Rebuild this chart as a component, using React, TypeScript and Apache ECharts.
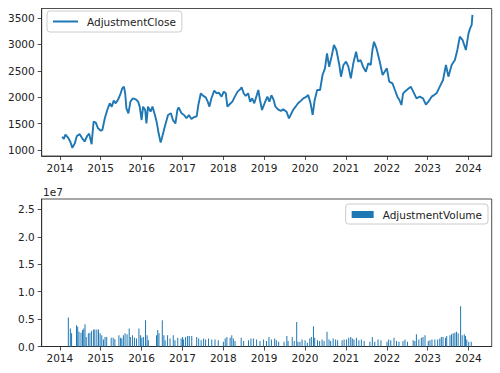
import React, { useEffect, useRef } from "react";
import * as echarts from "echarts";

const closeDates = [
  "2014-01-22","2014-02-06","2014-02-20","2014-03-14","2014-04-05","2014-04-23","2014-05-15","2014-06-02","2014-06-28","2014-07-20",
  "2014-08-11","2014-09-02","2014-09-20","2014-10-12","2014-10-30","2014-11-18","2014-12-09","2015-01-02","2015-01-16","2015-02-07",
  "2015-03-01","2015-03-23","2015-04-10","2015-04-28","2015-05-16","2015-06-07","2015-06-29","2015-07-13","2015-07-28","2015-08-08",
  "2015-08-19","2015-09-06","2015-09-24","2015-10-16","2015-11-10","2015-12-02","2015-12-16","2016-01-02","2016-01-15","2016-02-03",
  "2016-02-14","2016-02-28","2016-03-22","2016-04-08","2016-04-30","2016-05-15","2016-06-02","2016-06-20","2016-07-01","2016-07-27",
  "2016-08-25","2016-09-20","2016-10-08","2016-10-30","2016-11-17","2016-11-28","2016-12-24","2017-01-15","2017-02-06","2017-02-28",
  "2017-03-22","2017-04-16","2017-05-08","2017-05-23","2017-06-14","2017-07-06","2017-07-28","2017-08-15","2017-08-30","2017-09-17",
  "2017-10-12","2017-11-03","2017-11-21","2017-12-17","2018-01-05","2018-01-23","2018-02-07","2018-03-01","2018-03-23","2018-04-14",
  "2018-05-09","2018-05-31","2018-06-14","2018-07-02","2018-07-20","2018-08-11","2018-08-29","2018-09-16","2018-10-05","2018-10-27",
  "2018-11-10","2018-11-25","2018-12-13","2019-01-08","2019-01-30","2019-02-17","2019-03-07","2019-03-25","2019-04-12","2019-05-05",
  "2019-05-30","2019-06-21","2019-07-20","2019-08-11","2019-09-17","2019-10-09","2019-10-31","2019-11-25","2019-12-17","2020-01-08",
  "2020-01-30","2020-02-20","2020-03-10","2020-03-28","2020-04-19","2020-05-15","2020-06-06","2020-06-28","2020-07-16","2020-08-04",
  "2020-08-26","2020-09-16","2020-10-08","2020-11-03","2020-11-18","2020-12-10","2021-01-02","2021-01-23","2021-02-14","2021-03-08",
  "2021-04-02","2021-04-20","2021-05-12","2021-06-03","2021-06-28","2021-07-20","2021-08-11","2021-08-26","2021-09-09","2021-10-01",
  "2021-10-27","2021-11-25","2022-01-02","2022-01-23","2022-02-21","2022-03-15","2022-04-06","2022-04-24","2022-05-12","2022-05-27",
  "2022-06-28","2022-08-04","2022-08-26","2022-09-24","2022-10-23","2022-11-21","2022-12-17","2023-01-08","2023-02-06","2023-02-28",
  "2023-03-22","2023-04-20","2023-05-19","2023-06-14","2023-07-06","2023-08-04","2023-09-02","2023-09-24","2023-10-16","2023-11-10",
  "2023-12-09","2024-01-02","2024-01-16","2024-01-30","2024-02-06"
];
const closeValues = [
  1250,1210,1290,1240,1157,1040,1127,1265,1300,1221,
  1160,1265,1310,1110,1536,1517,1410,1366,1378,1600,
  1758,1884,1821,1934,1884,1960,2074,2168,2200,2074,
  1790,1695,1915,1979,1960,1915,1821,1568,1821,1758,
  1505,1821,1726,1821,1663,1536,1316,1140,1221,1442,
  1663,1695,1568,1500,1758,1808,1695,1663,1600,1663,
  1587,1625,1638,1852,2074,2024,1998,1915,1821,1979,
  2124,2074,2087,2011,2105,2074,1821,1871,1915,2011,
  2105,2149,2187,2074,2024,2074,1915,1979,1884,2036,
  2136,1947,1758,1900,2011,1915,2036,1960,1821,1770,
  1740,1770,1726,1600,1758,1820,1884,1930,1979,2000,
  2042,1884,1663,1947,2136,2136,2420,2547,2831,2578,
  2768,2989,2894,2610,2388,2610,2673,2578,2357,2641,
  2862,2673,2705,2578,2483,2641,2610,2894,3051,2925,
  2705,2420,2547,2294,2262,2136,2010,1947,1852,2073,
  2136,2199,2105,1979,2010,1979,1860,1915,2010,2040,
  2073,2199,2326,2610,2389,2610,2705,2894,3146,3083,
  2894,3209,3304,3368,3560
];

const volumeDates = [
  "2014-03-18","2014-04-05","2014-04-16","2014-05-30","2014-06-10","2014-06-21","2014-07-09","2014-07-23","2014-08-03","2014-08-14",
  "2014-08-25","2014-09-13","2014-09-27","2014-10-12","2014-10-30","2014-11-10","2014-11-28","2014-12-13","2014-12-27","2015-01-11",
  "2015-01-26","2015-02-09","2015-02-24","2015-04-05","2015-04-23","2015-05-08","2015-06-13","2015-06-28","2015-07-09","2015-07-23",
  "2015-08-07","2015-08-25","2015-09-13","2015-09-23","2015-10-12","2015-10-30","2015-11-17","2015-12-09","2015-12-24","2016-01-04",
  "2016-01-18","2016-02-06","2016-02-20","2016-03-02","2016-05-14","2016-05-25","2016-06-05","2016-07-05","2016-07-19","2016-07-30",
  "2016-08-21","2016-09-12","2016-10-11","2016-10-26","2016-11-20","2016-12-20","2017-01-02","2017-01-11","2017-01-29","2017-02-16",
  "2017-03-03","2017-03-25","2017-05-08","2017-05-26","2017-06-17","2017-07-09","2017-07-27","2017-08-22","2017-09-20","2017-10-19",
  "2017-11-17","2018-01-02","2018-01-18","2018-02-02","2018-03-03","2018-03-18","2018-04-01","2018-04-16","2018-06-10","2018-07-02",
  "2018-08-14","2018-09-05","2018-09-27","2018-10-26","2018-11-25","2018-12-27","2019-01-22","2019-02-13","2019-03-07","2019-04-05",
  "2019-04-20","2019-05-11","2019-06-28","2019-07-23","2019-08-03","2019-09-09","2019-09-27","2019-10-19","2019-10-30","2019-11-17",
  "2019-12-06","2020-01-02","2020-01-22","2020-02-13","2020-02-27","2020-03-17","2020-03-28","2020-04-22","2020-05-11","2020-06-02",
  "2020-06-20","2020-07-16","2020-08-03","2020-08-18","2020-09-09","2020-10-01","2020-10-19","2020-11-28","2020-12-16","2021-01-07",
  "2021-01-26","2021-02-13","2021-02-27","2021-03-14","2021-04-05","2021-04-27","2021-05-19","2021-06-13","2021-08-03","2021-08-25",
  "2021-09-16","2021-10-15","2021-11-10","2022-01-03","2022-01-18","2022-02-06","2022-03-07","2022-03-29","2022-04-20","2022-05-26",
  "2022-06-13","2022-07-05","2022-08-25","2022-09-09","2022-09-23","2022-10-15","2022-11-06","2022-11-21","2022-12-09","2023-01-07",
  "2023-01-22","2023-02-09","2023-03-07","2023-04-01","2023-04-20","2023-05-04","2023-05-19","2023-06-10","2023-06-21","2023-07-20",
  "2023-08-03","2023-08-18","2023-09-02","2023-09-16","2023-10-01","2023-10-23","2023-11-06","2023-11-25","2023-12-06","2023-12-17",
  "2024-01-04","2024-01-26"
];
const volumeValues = [
  5270000,3270000,2400000,3870000,3600000,2700000,2500000,3000000,3300000,4050000,
  1750000,2400000,2500000,2850000,3100000,3100000,3100000,3100000,2400000,2050000,
  1270000,1750000,1750000,1600000,1600000,1300000,2050000,1600000,1450000,2050000,
  2400000,2250000,3300000,1750000,2050000,1600000,1450000,3300000,2050000,1600000,
  1750000,4780000,2050000,1150000,2050000,3000000,2400000,4780000,2050000,1150000,
  2050000,1450000,2050000,1150000,1600000,1450000,1750000,1270000,1750000,1900000,
  1900000,1900000,1750000,1450000,1150000,1450000,1270000,1450000,1270000,1270000,
  1150000,850000,1450000,1750000,1600000,2050000,1450000,1000000,1600000,1000000,
  1150000,1450000,1450000,1270000,1000000,1270000,1000000,1750000,1270000,1450000,
  1150000,850000,850000,1900000,1000000,1750000,1000000,4470000,850000,850000,
  1270000,1150000,700000,1450000,1750000,3690000,1600000,1150000,1000000,1270000,
  1000000,2700000,1270000,1000000,1450000,1270000,1150000,1150000,1270000,1270000,
  1600000,1750000,1450000,1270000,1600000,1150000,1270000,1000000,850000,1750000,
  850000,1270000,1150000,850000,1270000,1150000,1600000,1000000,850000,1000000,
  1270000,850000,1150000,1000000,2250000,1270000,1600000,1750000,2050000,1000000,
  1150000,1270000,1270000,1270000,1450000,1750000,1750000,1600000,1900000,2050000,
  2250000,2400000,2500000,2700000,2400000,7330000,2050000,2250000,1900000,1270000,
  850000,850000
];

const yearTicks = [2014, 2015, 2016, 2017, 2018, 2019, 2020, 2021, 2022, 2023, 2024];
const closeTicks = [1000, 1500, 2000, 2500, 3000, 3500];
const volumeTicks = [0, 5000000, 10000000, 15000000, 20000000, 25000000];

const ts = (d: string) => {
  const [y, m, day] = d.split("-").map(Number);
  return Date.UTC(y, m - 1, day);
};

export default function App() {
  const ref = useRef<HTMLDivElement>(null);
  useEffect(() => {
    if (!ref.current) return;
    const chart = echarts.init(ref.current, null, { renderer: "svg" });
    const font = "DejaVu Sans";
    const txt = "#222";
    const blue = "#1f77b4";
    const yearTs = yearTicks.map((y) => Date.UTC(y, 0, 1));
    const xMin = Date.UTC(2013, 6, 23);
    const xMax = Date.UTC(2024, 6, 27);
    const gridBox = { left: 41.7, right: 8.3, height: 147.5, show: true, borderColor: "#222", borderWidth: 0.8, backgroundColor: "#fff" };
    const tickStyle = { show: true, length: 4, lineStyle: { color: "#222", width: 0.8 } };
    const xAxis = (gridIndex: number) => ({
      type: "value",
      gridIndex,
      min: xMin,
      max: xMax,
      axisLine: { show: true, onZero: false, lineStyle: { color: "#222", width: 0.8 } },
      splitLine: { show: false },
      axisTick: { ...tickStyle, customValues: yearTs },
      axisLabel: {
        customValues: yearTs,
        formatter: (v: number) => String(new Date(v).getUTCFullYear()),
        fontFamily: font,
        fontSize: 10.5,
        color: txt,
        margin: 6,
        hideOverlap: false,
      },
    });
    const yAxisStyle = {
      axisLine: { show: true, onZero: false, lineStyle: { color: "#222", width: 0.8 } },
      splitLine: { show: false },
    };
    const legendBox = {
      borderColor: "#ccc",
      borderWidth: 1,
      borderRadius: 3,
      backgroundColor: "#fff",
      textStyle: { fontFamily: font, fontSize: 10.5, color: txt, padding: [0, 0, 0, 4] },
    };
    chart.setOption({
      animation: false,
      backgroundColor: "#fff",
      grid: [
        { ...gridBox, top: 8.5 },
        { ...gridBox, top: 199 },
      ],
      xAxis: [xAxis(0), xAxis(1)],
      yAxis: [
        {
          type: "value",
          gridIndex: 0,
          min: 886,
          max: 3680,
          ...yAxisStyle,
          axisTick: { ...tickStyle, customValues: closeTicks },
          axisLabel: {
            customValues: closeTicks,
            formatter: (v: number) => String(v),
            fontFamily: font,
            fontSize: 10.5,
            color: txt,
            margin: 7,
          },
        },
        {
          type: "value",
          gridIndex: 1,
          min: 0,
          max: 26900000,
          ...yAxisStyle,
          axisTick: { ...tickStyle, customValues: volumeTicks },
          axisLabel: {
            customValues: volumeTicks,
            formatter: (v: number) => (v / 1e7).toFixed(1),
            fontFamily: font,
            fontSize: 10.5,
            color: txt,
            margin: 7,
          },
        },
      ],
      legend: [
        {
          ...legendBox,
          data: [{ name: "AdjustmentClose", icon: "rect", itemStyle: { color: blue } }],
          left: 47,
          top: 11,
          padding: [5, 6, 5, 6],
          itemWidth: 25,
          itemHeight: 2,
        },
        {
          ...legendBox,
          data: [{ name: "AdjustmentVolume", icon: "rect" }],
          right: 12,
          top: 204,
          padding: [5, 6, 4, 6],
          itemWidth: 22,
          itemHeight: 7,
        },
      ],
      graphic: [
        { type: "text", left: 43, top: 186, style: { text: "1e7", fontFamily: font, fontSize: 10.5, fill: txt } },
      ],
      series: [
        {
          name: "AdjustmentClose",
          type: "line",
          xAxisIndex: 0,
          yAxisIndex: 0,
          symbol: "none",
          lineStyle: { color: blue, width: 1.9 },
          itemStyle: { color: blue },
          data: closeDates.map((d, i) => [ts(d), closeValues[i]]),
        },
        {
          name: "AdjustmentVolume",
          type: "bar",
          xAxisIndex: 1,
          yAxisIndex: 1,
          barWidth: 1,
          itemStyle: { color: blue },
          data: volumeDates.map((d, i) => [ts(d), volumeValues[i]]),
        },
      ],
    });
    return () => chart.dispose();
  }, []);
  return (
    <div
      ref={ref}
      style={{ position: "fixed", left: 0, top: 0, width: 500, height: 373, background: "#fff" }}
    />
  );
}
